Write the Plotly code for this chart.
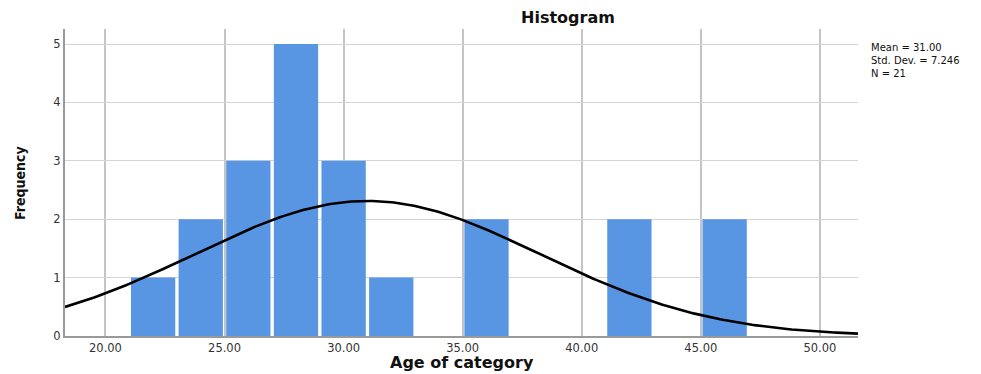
import numpy as np
import plotly.graph_objects as go

bin_centers = [22, 24, 26, 28, 30, 32, 34, 36, 38, 40, 42, 44, 46]
counts = [1, 2, 3, 5, 3, 1, 0, 2, 0, 0, 2, 0, 2]
bin_width = 2
mean = 31.00
std = 7.246
n = 21
x_ticks = [20, 25, 30, 35, 40, 45, 50]
y_ticks = [0, 1, 2, 3, 4, 5]

x_range = [18.3, 51.6]
xs = np.linspace(x_range[0], x_range[1], 300)
ys = n * bin_width / (std * np.sqrt(2 * np.pi)) * np.exp(-0.5 * ((xs - mean) / std) ** 2)

# page has an 8px body margin; figure is sized/positioned to fill the 981x374 window
OFF = 8
W, H = 981 - OFF, 374 - OFF
# plot area in page pixels
PX0, PX1, PY0, PY1 = 65, 858, 29, 336
pl, pr, pt, pb = PX0 - OFF, W - (PX1 - OFF), PY0 - OFF, H - (PY1 - OFF)
pw, ph = W - pl - pr, H - pt - pb

def px(x):
    return (x - OFF - pl) / pw

def py(y):
    return 1 - (y - OFF - pt) / ph

fig = go.Figure()
fig.add_trace(go.Bar(x=bin_centers, y=counts, width=[bin_width * 0.93] * len(counts),
                     marker=dict(color="#5896e4", line=dict(width=0)), hoverinfo="skip"))
fig.add_trace(go.Scatter(x=xs, y=ys, mode="lines", line=dict(color="black", width=2.6),
                         hoverinfo="skip"))

tickfont = dict(size=11.5, color="#333", family="DejaVu Sans, Verdana, sans-serif")
fig.update_layout(
    width=W, height=H,
    margin=dict(l=pl, r=pr, t=pt, b=pb),
    plot_bgcolor="white", paper_bgcolor="white",
    showlegend=False,
    font=dict(family="DejaVu Sans, sans-serif", size=11, color="#222"),
    xaxis=dict(range=x_range, tickvals=x_ticks, ticktext=[f"{v:.2f}" for v in x_ticks],
               showgrid=True, gridcolor="#c4c4c4", gridwidth=2, zeroline=False,
               showline=True, linecolor="#999", linewidth=1.5, ticks="", tickfont=tickfont),
    yaxis=dict(range=[0, 5.257], tickvals=y_ticks, showgrid=True, gridcolor="#d4d4d4",
               gridwidth=1, zeroline=False, showline=True, linecolor="#999", linewidth=2,
               ticks="", tickfont=tickfont),
    annotations=[
        dict(text="<b>Histogram</b>", x=px(568), y=py(18), xref="paper", yref="paper",
             xanchor="center", yanchor="middle", showarrow=False,
             font=dict(size=16, color="#111", family="DejaVu Sans, sans-serif")),
        dict(text="<b>Age of category</b>", x=px(462), y=py(362), xref="paper", yref="paper",
             xanchor="center", yanchor="middle", showarrow=False,
             font=dict(size=16, color="#111", family="DejaVu Sans, sans-serif")),
        dict(text="<b>Frequency</b>", x=px(20), y=py(183), xref="paper", yref="paper",
             xanchor="center", yanchor="middle", showarrow=False, textangle=-90,
             font=dict(size=14, color="#111",
                       family="Liberation Sans Narrow, DejaVu Sans Condensed, sans-serif")),
        dict(text=f"Mean = {mean:.2f}<br>Std. Dev. = {std:.3f}<br>N = {n}",
             x=px(869), y=py(40), xref="paper", yref="paper",
             xanchor="left", yanchor="top", align="left", showarrow=False,
             font=dict(size=10, color="#111")),
    ],
)

fig.write_html("out.html")
